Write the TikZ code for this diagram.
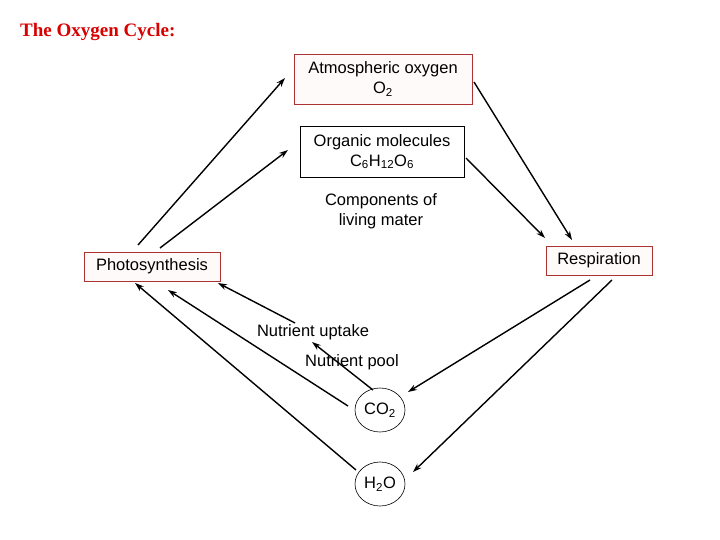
\documentclass[tikz,border=0pt]{standalone}
\usepackage{fontspec}
\setmainfont{Liberation Sans}
\newfontfamily\seriff{Liberation Serif}
\usetikzlibrary{arrows.meta,shapes.geometric}
\begin{document}
\begin{tikzpicture}[x=1pt,y=-1pt,
  every node/.style={font=\fontsize{16.5}{20}\selectfont,align=center,inner sep=0pt},
  redbox/.style={draw=red!60!black!80,line width=0.8pt,fill=red!2},
  blkbox/.style={draw=black,line width=0.8pt},
  oval/.style={draw,ellipse,minimum width=50pt,minimum height=44pt,line width=0.6pt},
  arr/.style={-{Stealth[length=9pt,width=6pt]},line width=1.4pt}]
\useasboundingbox (0,0) rectangle (720,540);
\node[anchor=west,text=red!85!black,font=\seriff\bfseries\fontsize{19}{22}\selectfont] (title) at (20,32) {The Oxygen Cycle:};
\node[redbox,minimum width=178pt,minimum height=50pt] (atm) at (383,79) {Atmospheric oxygen\\O\textsubscript{2}};
\node[blkbox,minimum width=164pt,minimum height=51pt] (org) at (382,151.5) {Organic molecules\\C\textsubscript{6}H\textsubscript{12}O\textsubscript{6}};
\node (comp) at (381,211) {Components of\\living mater};
\node[redbox,minimum width=136pt,minimum height=29pt] (pho) at (152,266.5) {Photosynthesis};
\node[redbox,minimum width=106pt,minimum height=29pt] (res) at (599,260.5) {Respiration};
\node (upt) at (313,332) {Nutrient uptake};
\node (pool) at (352,362) {Nutrient pool};
\node[oval] (co2) at (380,410) {CO\textsubscript{2}};
\node[oval] (h2o) at (380,484) {H\textsubscript{2}O};
\coordinate (p1) at (138,245);
\coordinate (p2) at (160,248);
\draw[arr] (p1) -- (285,78) coordinate (a1);
\draw[arr] (p2) -- (288,150);
\draw[arr] (474,82) -- (572,240);
\draw[arr] (466,158) -- (545,238);
\draw[arr] (590,280) -- (408,392);
\draw[arr] (612,280) -- (413,472);
\draw[arr] (356,470) -- (135,283);
\draw[arr] (348,406) -- (168,290);
\draw[arr] (295,323) -- (218,283);
\draw[arr] (373,390) -- (312,342);
\end{tikzpicture}
\end{document}
